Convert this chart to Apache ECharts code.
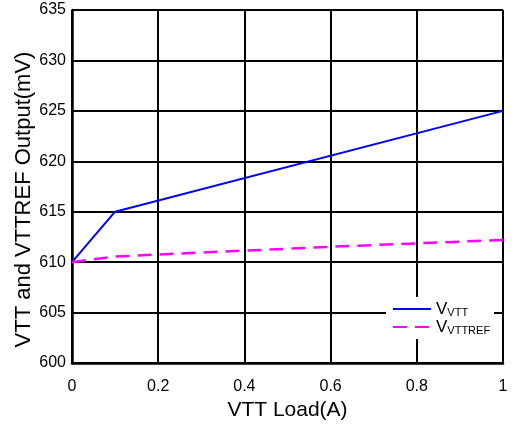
<!DOCTYPE html>
<html>
<head>
<meta charset="utf-8">
<script src="https://cdn.jsdelivr.net/npm/echarts@6/dist/echarts.min.js"></script>
<style>
  html, body { margin: 0; padding: 0; background: #fff; }
  #chart { width: 516px; height: 424px; }
</style>
</head>
<body>
<div id="chart"></div>
<script>
// Load current (A) and measured output voltages (mV)
const vttLoad = [0, 0.1, 1];
const vttValues = [610, 615, 625];
const vttrefLoad = [0, 0.1, 0.2, 0.6, 1];
const vttrefValues = [610, 610.55, 610.76, 611.52, 612.2];

const xTicks = { min: 0, max: 1, interval: 0.2 };
const yTicks = { min: 600, max: 635, interval: 5 };

const FONT = '"Liberation Sans", Arial, sans-serif';

function pairs(xs, ys) {
  return xs.map((x, i) => [x, ys[i]]);
}

const chart = echarts.init(document.getElementById('chart'), null, { renderer: 'canvas' });

chart.setOption({
  animation: false,
  backgroundColor: '#fff',
  grid: {
    left: 72, top: 10, right: 13, bottom: 61,
    containLabel: false,
    outerBoundsMode: 'none'
  },
  xAxis: {
    type: 'value',
    min: xTicks.min, max: xTicks.max, interval: xTicks.interval,
    name: 'VTT Load(A)',
    nameLocation: 'middle',
    nameGap: 36,
    nameTextStyle: { fontFamily: FONT, fontSize: 21, color: '#000' },
    axisLine: { show: true, lineStyle: { color: '#000', width: 2.5 } },
    axisTick: { show: false },
    axisLabel: { margin: 16, fontFamily: FONT, fontSize: 16, color: '#000' },
    splitLine: { show: true, lineStyle: { color: '#000', width: 2 } }
  },
  yAxis: {
    type: 'value',
    min: yTicks.min, max: yTicks.max, interval: yTicks.interval,
    name: 'VTT and VTTREF Output(mV)',
    nameLocation: 'middle',
    nameGap: 37,
    nameMoveOverlap: false,
    nameTextStyle: { fontFamily: FONT, fontSize: 22, color: '#000', padding: [0, 26, 0, 0] },
    axisLine: { show: true, lineStyle: { color: '#000', width: 2.5 } },
    axisTick: { show: false },
    axisLabel: { margin: 6, fontFamily: FONT, fontSize: 16, color: '#000' },
    splitLine: { show: true, lineStyle: { color: '#000', width: 2 } }
  },
  legend: {
    show: true,
    left: 386,
    top: 297,
    orient: 'vertical',
    backgroundColor: '#fff',
    padding: [3, 4, 3, 6],
    itemGap: 0,
    itemWidth: 38,
    itemHeight: 14,
    itemStyle: { opacity: 0, borderWidth: 0 },
    data: [{ name: 'VTT' }, { name: 'VTTREF' }],
    formatter: name => '{v|V}{s|' + name + '}',
    textStyle: {
      fontFamily: FONT,
      color: '#000',
      rich: {
        v: { fontFamily: FONT, fontSize: 17, lineHeight: 18, color: '#000' },
        s: { fontFamily: FONT, fontSize: 11, lineHeight: 18, color: '#000', padding: [7, 0, 0, 0] }
      }
    },
    z: 10
  },
  series: [
    {
      name: 'VTT',
      type: 'line',
      data: pairs(vttLoad, vttValues),
      showSymbol: false,
      symbol: 'none',
      itemStyle: { color: '#0000ff' },
      lineStyle: { color: '#0000ff', width: 2 },
      z: 3
    },
    {
      name: 'VTTREF',
      type: 'line',
      data: pairs(vttrefLoad, vttrefValues),
      showSymbol: false,
      symbol: 'none',
      itemStyle: { color: '#ff00ff' },
      lineStyle: { color: '#ff00ff', width: 2.5, type: [14, 8] },
      z: 3
    }
  ]
});
</script>
</body>
</html>
